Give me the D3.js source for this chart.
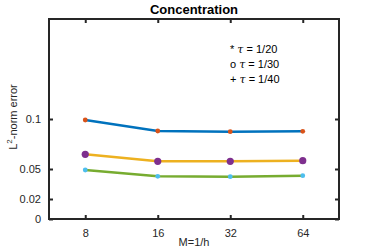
<!DOCTYPE html>
<html>
<head>
<meta charset="utf-8">
<script src="https://cdn.jsdelivr.net/npm/d3@7"></script>
<style>
body { margin: 0; background: #fff; }
svg { font-family: "Liberation Sans", Arial, sans-serif; }
</style>
</head>
<body>
<svg id="chart" width="374" height="249"></svg>
<script>
let categories = ['8', '16', '32', '64'];
let tau20 = [0.099, 0.088, 0.0873, 0.0877];
let tau30 = [0.0647, 0.0577, 0.0577, 0.0583];
let tau40 = [0.049, 0.0427, 0.0423, 0.0433];
let y_ticks = [0, 0.02, 0.05, 0.1];
let legend_marks = ['*', 'o', '+'];
let legend_values = ['1/20', '1/30', '1/40'];

let margin = {top: 19, left: 49, right: 35, bottom: 30};
let width = 374, height = 249;

let svg = d3.select('#chart');

let x = d3.scaleLinear().domain([-0.5, categories.length - 0.5])
	.range([margin.left, width - margin.right]);
let y = d3.scaleLinear().domain([0, 0.2])
	.range([height - margin.bottom, margin.top]);

let series = [
	{values: tau20, line: '#0072BD', mark: '#D95319', r: 2.4},
	{values: tau30, line: '#EDB120', mark: '#7E2F8E', r: 3.6},
	{values: tau40, line: '#77AC30', mark: '#4DBEEE', r: 2.4}
];

let axis_col = '#262626';

// axes
let xAxis = d3.axisBottom(x).tickValues(d3.range(categories.length))
	.tickFormat(i => categories[i]).tickSize(-4).tickPadding(10);
let yAxis = d3.axisLeft(y).tickValues(y_ticks)
	.tickFormat(d => d3.format('')(d)).tickSize(-4).tickPadding(8);

let gx = svg.append('g')
	.attr('transform', `translate(0, ${y(0)})`)
	.call(xAxis);
let gy = svg.append('g')
	.attr('transform', `translate(${x.range()[0]}, 0)`)
	.call(yAxis);
let gx2 = svg.append('g')
	.attr('transform', `translate(0, ${y(0.2)})`)
	.call(d3.axisTop(x).tickValues(d3.range(categories.length)).tickFormat('').tickSize(-4));
let gy2 = svg.append('g')
	.attr('transform', `translate(${x.range()[1]}, 0)`)
	.call(d3.axisRight(y).tickValues(y_ticks).tickFormat('').tickSize(-4));

[gx, gy, gx2, gy2].forEach(g => {
	g.select('.domain').remove();
	g.selectAll('line').attr('stroke', axis_col).attr('stroke-width', 2);
	g.selectAll('text').attr('fill', axis_col).style('font-size', '11px');
});

svg.append('rect')
	.attr('x', x.range()[0])
	.attr('y', y(0.2))
	.attr('width', x.range()[1] - x.range()[0])
	.attr('height', y(0) - y(0.2))
	.attr('fill', 'none')
	.attr('stroke', axis_col)
	.attr('stroke-width', 2);

// lines and markers
let line_function = d3.line()
	.x((d, i) => x(i))
	.y(d => y(d));

series.forEach(s => {
	svg.append('path')
		.attr('d', line_function(s.values))
		.attr('fill', 'none')
		.attr('stroke', s.line)
		.attr('stroke-width', 2.5);
	svg.selectAll(null)
		.data(s.values)
		.enter()
		.append('circle')
		.attr('cx', (d, i) => x(i))
		.attr('cy', d => y(d))
		.attr('r', s.r)
		.attr('fill', s.mark);
});

// title and labels
svg.append('text')
	.attr('x', (x.range()[0] + x.range()[1]) / 2)
	.attr('y', 14)
	.attr('text-anchor', 'middle')
	.style('font-size', '13px')
	.style('font-weight', 'bold')
	.attr('fill', '#000')
	.text('Concentration');

svg.append('text')
	.attr('x', (x.range()[0] + x.range()[1]) / 2)
	.attr('y', 246)
	.attr('text-anchor', 'middle')
	.style('font-size', '11px')
	.attr('fill', axis_col)
	.text('M=1/h');

let ylab = svg.append('text')
	.attr('transform', `translate(17, ${(y(0) + y(0.2)) / 2 - 2}) rotate(-90)`)
	.attr('text-anchor', 'middle')
	.style('font-size', '11px')
	.attr('fill', axis_col);
ylab.append('tspan').text('L');
ylab.append('tspan').attr('dy', -5).style('font-size', '8px').text('2');
ylab.append('tspan').attr('dy', 5).text('-norm error');

// legend as text annotations
legend_marks.forEach((m, i) => {
	let t = svg.append('text')
		.attr('x', 230)
		.attr('y', 53 + i * 15)
		.style('font-size', '11px')
		.attr('fill', '#000');
	t.append('tspan').text(m + ' ');
	t.append('tspan').style('font-style', 'italic').style('font-family', '"DejaVu Serif", serif').text('\u03c4');
	t.append('tspan').text(' = ' + legend_values[i]);
});
</script>
</body>
</html>
